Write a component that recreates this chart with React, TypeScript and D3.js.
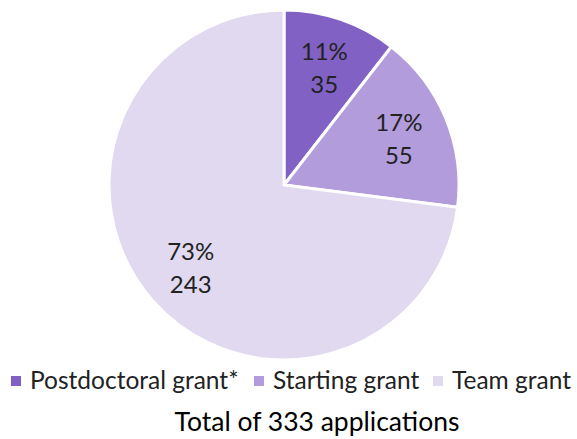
import React from "react";
import * as d3 from "d3";

const categories = ["Postdoctoral grant*", "Starting grant", "Team grant"];
const counts = [35, 55, 243];
const percents = ["11%", "17%", "73%"];
const colors = ["#8161C3", "#B29CDB", "#E0D9EF"];
const title = "Total of 333 applications";

const W = 577;
const H = 439;
const cx = 284;
const cy = 185;
const radius = 175;
const font = "Lato, 'Open Sans', sans-serif";

const App = () => {
  const pie = d3.pie<number>().sort(null).value((d) => d);
  const arcs = pie(counts);
  const arc = d3.arc<d3.PieArcDatum<number>>().innerRadius(0).outerRadius(radius);
  const labelArc = d3
    .arc<d3.PieArcDatum<number>>()
    .innerRadius(radius * 0.71)
    .outerRadius(radius * 0.71);

  // legend layout
  const legendX = [11, 254, 433];

  return (
    <svg
      width={W}
      height={H}
      style={{ position: "absolute", left: 0, top: 0, background: "#fff" }}
    >
      <g transform={`translate(${cx},${cy})`}>
        {arcs.map((a, i) => (
          <path
            key={i}
            d={arc(a) || ""}
            fill={colors[i]}
            stroke="#fff"
            strokeWidth={3}
          />
        ))}
        {arcs.map((a, i) => {
          const [x, y] = labelArc.centroid(a);
          return (
            <text
              key={"l" + i}
              x={x}
              y={y}
              textAnchor="middle"
              fontFamily={font}
              fontSize={24}
              fill="#222"
            >
              <tspan x={x} dy={-7}>
                {percents[i]}
              </tspan>
              <tspan x={x} dy={33}>
                {counts[i]}
              </tspan>
            </text>
          );
        })}
      </g>
      {categories.map((c, i) => (
        <g key={"lg" + i} transform={`translate(${legendX[i]},376)`}>
          <rect x={0} y={0} width={10} height={10} fill={colors[i]} />
          <text
            x={19}
            y={13}
            fontFamily={font}
            fontSize={24.5}
            fill="#222"
          >
            {c}
          </text>
        </g>
      ))}
      <text
        x={317}
        y={431}
        textAnchor="middle"
        fontFamily={font}
        fontSize={26.5}
        fill="#000"
      >
        {title}
      </text>
    </svg>
  );
};

export default App;
